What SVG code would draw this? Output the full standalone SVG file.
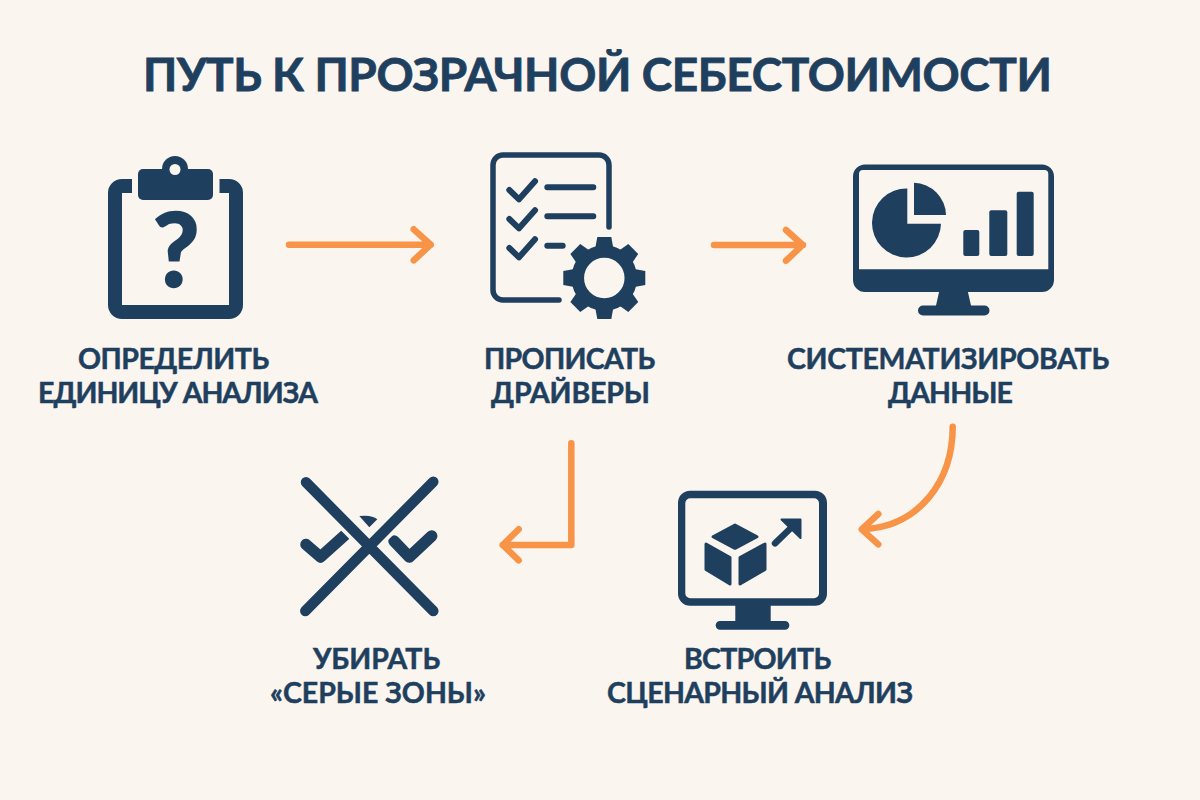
<svg xmlns="http://www.w3.org/2000/svg" xmlns:xlink="http://www.w3.org/1999/xlink" width="1200" height="800" viewBox="0 0 1200 800">
<style>
.t{font-family:"Lato","Open Sans","Liberation Sans",sans-serif;font-weight:700;fill:#1f3f5f;stroke:#1f3f5f}
.l{font-size:28.5px;stroke-width:.5px}
.n{fill:#1f3f5f}
.s{fill:none;stroke:#1f3f5f;stroke-linecap:round;stroke-linejoin:round}
.a{fill:none;stroke:#f79447;stroke-width:6.5;stroke-linecap:round;stroke-linejoin:round}
</style>
<rect width="1200" height="800" fill="#faf5ee"/>
<text class="t" x="143" y="91" font-size="46" textLength="909" stroke-width=".8">ПУТЬ К ПРОЗРАЧНОЙ СЕБЕСТОИМОСТИ</text>
<g id="node-1">
<path class="n" d="M132 179H122a14 14 0 0 0-14 14V305a14 14 0 0 0 14 14H229a14 14 0 0 0 14-14V193a14 14 0 0 0-14-14H219.500V193H229V305H122V193H132Z"/>
<circle class="n" cx="175" cy="169" r="13"/>
<rect class="n" x="138" y="169" width="75" height="31" rx="5"/>
<circle cx="175" cy="169.500" r="5.500" fill="#faf5ee"/>
<text class="t" x="153" y="286" font-size="101" textLength="46" stroke-width="2.500">?</text>
<text class="t l" x="78" y="369" textLength="191">ОПРЕДЕЛИТЬ</text>
<text class="t l" x="38" y="403" textLength="280">ЕДИНИЦУ АНАЛИЗА</text>
</g>
<g id="node-2">
<path class="s" stroke-width="5.500" d="M559 300H503a10 10 0 0 1-10-10V165a10 10 0 0 1 10-10H599a10 10 0 0 1 10 10V227"/>
<path class="s" stroke-width="6" d="M509.300 190L519 199.300L535 181.300M509.300 219L519 228.300L535 210.300M509.300 248L519 257.300L535 239.300M547.300 187.300H593.300M547.300 216.300H593.300M547.300 245.700H562.700"/>
<g transform="translate(604.300 278)">
<circle r="26.500" fill="none" stroke="#1f3f5f" stroke-width="12.500"/>
<path id="tooth" class="n" d="M-9-30L-7-41H7L9-30Z"/>
<use xlink:href="#tooth" href="#tooth" transform="rotate(45)"/>
<use xlink:href="#tooth" href="#tooth" transform="rotate(90)"/>
<use xlink:href="#tooth" href="#tooth" transform="rotate(135)"/>
<use xlink:href="#tooth" href="#tooth" transform="rotate(180)"/>
<use xlink:href="#tooth" href="#tooth" transform="rotate(225)"/>
<use xlink:href="#tooth" href="#tooth" transform="rotate(270)"/>
<use xlink:href="#tooth" href="#tooth" transform="rotate(315)"/>
</g>
<text class="t l" x="484" y="369" textLength="171">ПРОПИСАТЬ</text>
<text class="t l" x="491" y="403" textLength="159">ДРАЙВЕРЫ</text>
</g>
<g id="node-3">
<path class="n" fill-rule="evenodd" d="M865 164.500H1042a12 12 0 0 1 12 12V280a12 12 0 0 1-12 12H865a12 12 0 0 1-12-12V176.500a12 12 0 0 1 12-12ZM863 170a4 4 0 0 0-4 4V269.300H1048.300V174a4 4 0 0 0-4-4Z"/>
<path class="n" d="M939.300 291H967.700L971 305.500H984.500a5 5 0 0 1 0 10H923a5 5 0 0 1 0-10H936Z"/>
<path class="n" d="M907.300 223.700V188.500A34.500 34.500 0 1 0 941 223.700Z"/>
<path class="n" d="M914 215V182.700A33 33 0 0 1 946 215Z"/>
<rect class="n" x="963.300" y="230" width="16" height="26" rx="2"/>
<rect class="n" x="989.300" y="210.300" width="18" height="45.700" rx="2"/>
<rect class="n" x="1016.700" y="191.700" width="17" height="64.300" rx="2"/>
<text class="t l" x="787" y="369" textLength="322">СИСТЕМАТИЗИРОВАТЬ</text>
<text class="t l" x="888" y="403" textLength="125">ДАННЫЕ</text>
</g>
<g id="node-4">
<path class="n" fill-rule="evenodd" d="M690 490.700H815a12 12 0 0 1 12 12V593.700a12 12 0 0 1-12 12H690a12 12 0 0 1-12-12V502.700a12 12 0 0 1 12-12ZM690.300 498.300a5 5 0 0 0-5 5V593.300a5 5 0 0 0 5 5H814a5 5 0 0 0 5-5V503.300a5 5 0 0 0-5-5Z"/>
<path class="n" d="M735.300 605H770.700V621H785a4.300 4.300 0 0 1 0 8.700H720a4.300 4.300 0 0 1 0-8.700H735.300Z"/>
<path class="n" stroke="#1f3f5f" stroke-width="3" stroke-linejoin="round" d="M735 525L757 536.700L735 548.300L713 536.700Z"/>
<path class="n" stroke="#1f3f5f" stroke-width="3" stroke-linejoin="round" d="M706 544L730 557.500V584L706 569.500Z"/>
<path class="n" stroke="#1f3f5f" stroke-width="3" stroke-linejoin="round" d="M740 557.500L765 544V569.500L740 584Z"/>
<path class="s" stroke-width="6.500" d="M775 543.300L795 524"/>
<path class="n" stroke="#1f3f5f" stroke-width="2" stroke-linejoin="round" d="M781.500 519.500H800.500V538Z"/>
<text class="t l" x="684" y="669" textLength="147">ВСТРОИТЬ</text>
<text class="t l" x="607" y="703" textLength="306">СЦЕНАРНЫЙ АНАЛИЗ</text>
</g>
<g id="node-5">
<path class="s" stroke-width="11.500" d="M306 544.500L320.500 557L345 535M394 541L409.300 557L431.700 536"/>
<path fill="none" stroke="#faf5ee" stroke-width="18" d="M306 482.300L433.300 611"/>
<path fill="none" stroke="#faf5ee" stroke-width="18" d="M433.300 481.700L305.300 611"/>
<path class="n" d="M359.300 516Q372 514.500 377.300 519.300L369.300 527.300Z"/>
<path class="s" stroke-width="10.500" d="M306 482.300L433.300 611M433.300 481.700L305.300 611"/>
<text class="t l" x="313" y="669" textLength="127">УБИРАТЬ</text>
<text class="t l" x="270" y="703" textLength="216">«СЕРЫЕ ЗОНЫ»</text>
</g>
<g id="connectors">
<path class="a" d="M289 244.700H430.700M413.700 229.300L430.700 244.700L413.700 260.300"/>
<path class="a" d="M714 245H803M786 230L802.700 245L786 260.700"/>
<path class="a" d="M571.300 443.300V545H502.700M518.700 529.300L502.700 545L518.700 560.300"/>
<path class="a" d="M952.700 426.700C952.700 480 920 527 862 529.300M878.300 514L861.700 529.300L878.300 544.300"/>
</g>
</svg>
